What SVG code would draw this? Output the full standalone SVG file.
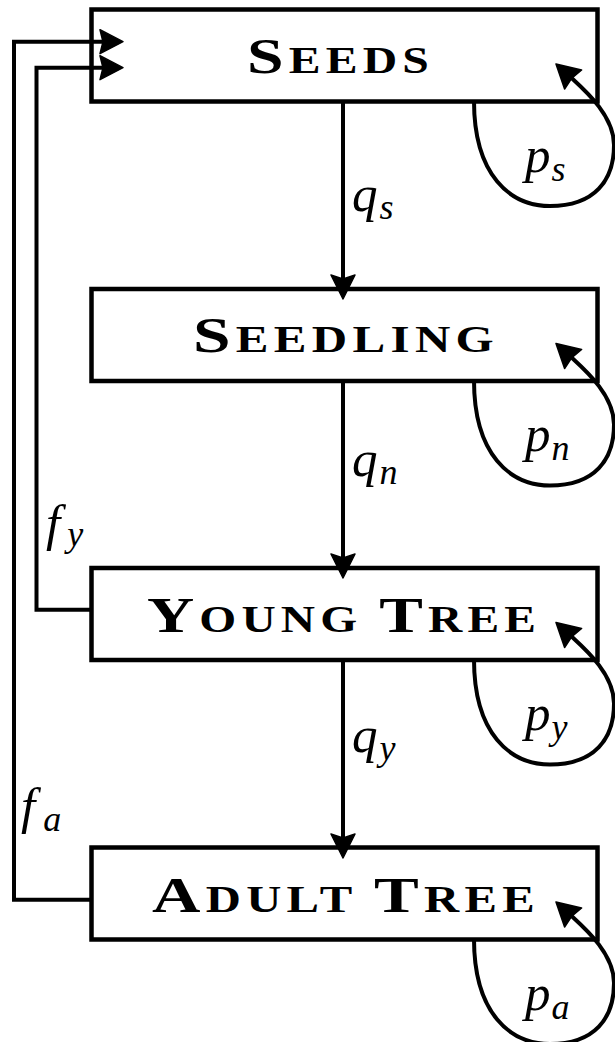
<svg xmlns="http://www.w3.org/2000/svg" width="615" height="1042" viewBox="0 0 615 1042">
<style>
.box{fill:#fff;stroke:#000;stroke-width:4.5}
.lbl{font-family:"Liberation Serif",serif;font-weight:bold;fill:#000;letter-spacing:4px}
.big{font-size:51px}
.sm{font-size:37px}
.edge{fill:none;stroke:#000;stroke-width:4;stroke-linejoin:miter}
.head{fill:#000;stroke:#000;stroke-width:1.5;stroke-linejoin:round}
.m{font-family:"Liberation Serif",serif;font-style:italic;font-size:51px;fill:#000}
.s{font-size:36px}
</style>
<defs>
<path id="loophead" d="M556,64 L581.6,70 L571.8,78.2 L564.6,89 Z"/>
</defs>
<g id="seeds">
<rect class="box" x="91.5" y="9.5" width="506" height="92"/>
<text class="lbl" x="247" y="73" textLength="187" lengthAdjust="spacingAndGlyphs"><tspan class="big">S</tspan><tspan class="sm">EEDS</tspan></text>
</g>
<g id="seedling">
<rect class="box" x="91.5" y="289" width="506" height="92"/>
<text class="lbl" x="193" y="352" textLength="306" lengthAdjust="spacingAndGlyphs"><tspan class="big">S</tspan><tspan class="sm">EEDLING</tspan></text>
</g>
<g id="young-tree">
<rect class="box" x="91.5" y="568" width="506" height="92"/>
<text class="lbl" x="147" y="632" textLength="394" lengthAdjust="spacingAndGlyphs"><tspan class="big">Y</tspan><tspan class="sm">OUNG </tspan><tspan class="big">T</tspan><tspan class="sm">REE</tspan></text>
</g>
<g id="adult-tree">
<rect class="box" x="91.5" y="847.5" width="506" height="92"/>
<text class="lbl" x="152" y="912" textLength="388" lengthAdjust="spacingAndGlyphs"><tspan class="big">A</tspan><tspan class="sm">DULT </tspan><tspan class="big">T</tspan><tspan class="sm">REE</tspan></text>
</g>
<g id="connectors">
<path class="edge" d="M343,101.5 L343,282"/>
<path class="head" d="M343,299 L331,275 L343,279 L355,275 Z"/>
<path class="edge" d="M343,381 L343,561"/>
<path class="head" d="M343,578 L331,554 L343,558 L355,554 Z"/>
<path class="edge" d="M343,660 L343,841"/>
<path class="head" d="M343,858 L331,834 L343,838 L355,834 Z"/>
<path class="edge" d="M91.5,899.7 L14,899.7 L14,41.7 L106,41.7"/>
<path class="head" d="M123,41.7 L100,29.7 L103,41.7 L100,53.7 Z"/>
<path class="edge" d="M91.5,609.7 L36.5,609.7 L36.5,67.7 L106,67.7"/>
<path class="head" d="M123,67.7 L100,55.7 L103,67.7 L100,79.7 Z"/>
<path class="edge" d="M474,101 C474,175 510,206 550,206 C595,206 614,180 614,145 C614,115 584,89.6 569.4,76.1"/>
<use href="#loophead" class="head"/>
<path class="edge" transform="translate(0,279.5)" d="M474,101 C474,175 510,206 550,206 C595,206 614,180 614,145 C614,115 584,89.6 569.4,76.1"/>
<use href="#loophead" class="head" transform="translate(0,279.5)"/>
<path class="edge" transform="translate(0,558.5)" d="M474,101 C474,175 510,206 550,206 C595,206 614,180 614,145 C614,115 584,89.6 569.4,76.1"/>
<use href="#loophead" class="head" transform="translate(0,558.5)"/>
<path class="edge" transform="translate(0,838)" d="M474,101 C474,175 510,206 550,206 C595,206 614,180 614,145 C614,115 584,89.6 569.4,76.1"/>
<use href="#loophead" class="head" transform="translate(0,838)"/>
<text class="m" x="352" y="211">q<tspan class="s" dy="8" dx="2">s</tspan></text>
<text class="m" x="352" y="476">q<tspan class="s" dy="8" dx="2">n</tspan></text>
<text class="m" x="352" y="752">q<tspan class="s" dy="8" dx="2">y</tspan></text>
<text class="m" x="525" y="172">p<tspan class="s" dy="9" dx="1">s</tspan></text>
<text class="m" x="525" y="451">p<tspan class="s" dy="9" dx="1">n</tspan></text>
<text class="m" x="525" y="730">p<tspan class="s" dy="9" dx="1">y</tspan></text>
<text class="m" x="525" y="1010">p<tspan class="s" dy="9" dx="1">a</tspan></text>
<text class="m" x="46" y="540">f<tspan class="s" dy="6" dx="7">y</tspan></text>
<text class="m" x="21" y="823">f<tspan class="s" dy="8" dx="8">a</tspan></text>
</g>
</svg>
